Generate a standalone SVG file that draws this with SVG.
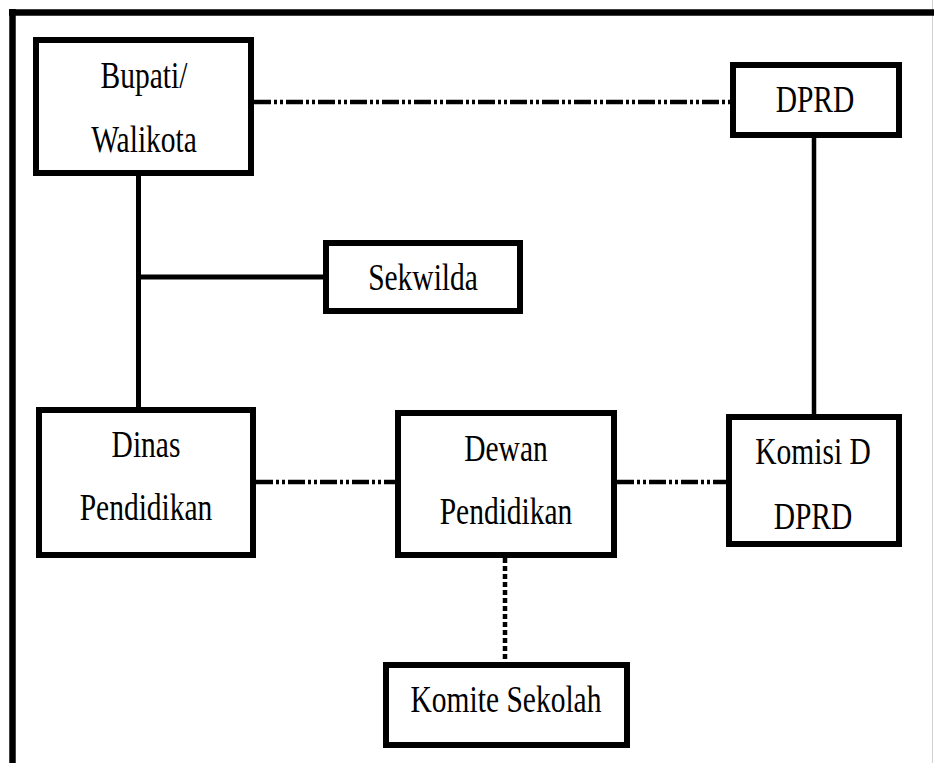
<svg xmlns="http://www.w3.org/2000/svg" width="934" height="763" viewBox="0 0 934 763">
<style>
.box{fill:#fff;stroke:#000;stroke-width:6;stroke-linejoin:miter}
.t{font-family:'Liberation Serif','DejaVu Serif',serif;font-size:29.5px;fill:#000;text-anchor:middle}
.solid{stroke:#000;stroke-width:5;fill:none}
.dot{stroke:#000;stroke-width:4.5;fill:none;stroke-dasharray:17 3 3 3 3 3}
.vdot{stroke:#000;stroke-width:4.5;fill:none;stroke-dasharray:5 3}
</style>
<rect x="0" y="0" width="934" height="763" fill="#fff"/>
<g id="frame">
<line x1="932.5" y1="0" x2="932.5" y2="763" stroke="#d0d0d0" stroke-width="1"/>
<line x1="9" y1="12.5" x2="934" y2="12.5" stroke="#000" stroke-width="6.5"/>
<line x1="12.5" y1="9" x2="12.5" y2="763" stroke="#000" stroke-width="6.5"/>
</g>
<g id="connectors">
<line class="solid" x1="138.5" y1="176" x2="138.5" y2="407"/>
<line class="solid" x1="138.5" y1="277" x2="323" y2="277"/>
<line class="solid" x1="814" y1="138" x2="814" y2="414" style="stroke-width:4.5"/>
<line class="dot" x1="254" y1="102" x2="730" y2="102"/>
<line class="dot" x1="256" y1="482" x2="395" y2="482"/>
<line class="dot" x1="617" y1="482" x2="726" y2="482"/>
<line class="vdot" x1="505" y1="558" x2="505" y2="662"/>
</g>
<g id="bupati">
<rect class="box" x="36" y="40" width="215" height="133"/>
<text class="t" transform="translate(144,88) scale(1,1.3)">Bupati/</text>
<text class="t" transform="translate(144,152) scale(1,1.3)">Walikota</text>
</g>
<g id="dprd">
<rect class="box" x="733" y="65" width="166" height="70"/>
<text class="t" transform="translate(815,112) scale(1,1.3)">DPRD</text>
</g>
<g id="sekwilda">
<rect class="box" x="326" y="243" width="194" height="68"/>
<text class="t" transform="translate(423,290) scale(1,1.3)">Sekwilda</text>
</g>
<g id="dinas">
<rect class="box" x="39" y="410" width="214" height="145"/>
<text class="t" transform="translate(146,457) scale(1,1.3)">Dinas</text>
<text class="t" transform="translate(146,520) scale(1,1.3)">Pendidikan</text>
</g>
<g id="dewan">
<rect class="box" x="398" y="413" width="216" height="142"/>
<text class="t" transform="translate(506,461) scale(1,1.3)">Dewan</text>
<text class="t" transform="translate(506,524) scale(1,1.3)">Pendidikan</text>
</g>
<g id="komisi">
<rect class="box" x="729" y="417" width="170" height="127"/>
<text class="t" transform="translate(813,464) scale(1,1.3)">Komisi D</text>
<text class="t" transform="translate(813,529) scale(1,1.3)">DPRD</text>
</g>
<g id="komite">
<rect class="box" x="386" y="665" width="241" height="80"/>
<text class="t" transform="translate(506,712) scale(1,1.3)">Komite Sekolah</text>
</g>
</svg>
